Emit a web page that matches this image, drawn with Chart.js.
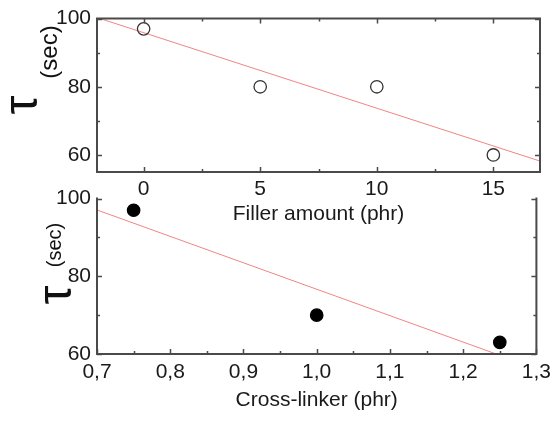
<!DOCTYPE html>
<html>
<head>
<meta charset="utf-8">
<script src="https://cdn.jsdelivr.net/npm/chart.js"></script>
<style>
  body { margin: 0; background: #fff; }
  .wrap { position: relative; width: 557px; height: 421px; }
  canvas { position: absolute; left: 0; }
</style>
</head>
<body>
<div class="wrap">
  <canvas id="topChart" width="557" height="235" style="top:0px"></canvas>
  <canvas id="botChart" width="557" height="241" style="top:180px"></canvas>
</div>
<script>
// top panel - filler amount
const fillerX = [0, 5, 10, 15];
const fillerTau = [97, 80, 80, 60];
const fillerFitX = [-2, 17];
const fillerFitTau = [100.3, 58.2];
const fillerTicksX = [0, 5, 10, 15];
const fillerMinorX = [2.5, 7.5, 12.5];
const fillerTicksY = [60, 80, 100];
const fillerMinorY = [70, 90];

// bottom panel - cross-linker
const crossX = [0.75, 1.0, 1.25];
const crossTau = [97, 70, 63];
const crossFitX = [0.7, 1.3];
const crossFitTau = [97.07, 56.27];
const crossTicksX = [0.7, 0.8, 0.9, 1.0, 1.1, 1.2, 1.3];
const crossMinorX = [0.75, 0.85, 0.95, 1.05, 1.15, 1.25];
const crossTicksY = [60, 80, 100];
const crossMinorY = [70, 90];

const FONT = '"Liberation Sans", Arial, sans-serif';
Chart.defaults.font.family = FONT;
Chart.defaults.color = '#1a1a1a';

const pts = (xs, ys) => xs.map((x, i) => ({ x: x, y: ys[i] }));

// axes box with inward ticks
const framePlugin = {
  id: 'frame',
  afterDatasetsDraw(chart, args, o) {
    const ctx = chart.ctx, a = chart.chartArea;
    const x = chart.scales.x, y = chart.scales.y;
    ctx.save();
    ctx.strokeStyle = '#4a4a4a';
    ctx.lineWidth = 2;
    ctx.lineCap = 'square';
    ctx.beginPath();
    if (o.top) { ctx.moveTo(a.left, a.top); ctx.lineTo(a.right, a.top); }
    ctx.moveTo(a.left, a.top); ctx.lineTo(a.left, a.bottom);
    ctx.lineTo(a.right, a.bottom); ctx.lineTo(a.right, a.top);
    ctx.stroke();
    ctx.lineWidth = 1.5;
    ctx.lineCap = 'butt';
    ctx.beginPath();
    const tickX = (vals, len) => vals.forEach(v => {
      const px = Math.round(x.getPixelForValue(v)) + 0.5;
      ctx.moveTo(px, a.bottom); ctx.lineTo(px, a.bottom - len);
      if (o.top) { ctx.moveTo(px, a.top); ctx.lineTo(px, a.top + len); }
    });
    const tickY = (vals, len) => vals.forEach(v => {
      const py = Math.round(y.getPixelForValue(v)) + 0.5;
      ctx.moveTo(a.left, py); ctx.lineTo(a.left + len, py);
      ctx.moveTo(a.right, py); ctx.lineTo(a.right - len, py);
    });
    tickX(o.majorX, 5); tickX(o.minorX, 3);
    tickY(o.majorY, 5); tickY(o.minorY, 3);
    ctx.stroke();
    ctx.restore();
  }
};

// rotated tau (sec) axis title
const tauPlugin = {
  id: 'tauTitle',
  afterDraw(chart, args, o) {
    const ctx = chart.ctx;
    ctx.save();
    ctx.fillStyle = '#111';
    ctx.textAlign = 'center';
    ctx.textBaseline = 'alphabetic';
    [o.main, o.sub].forEach(t => {
      ctx.save();
      ctx.translate(t.x, t.y);
      ctx.rotate(-Math.PI / 2);
      ctx.font = t.size + 'px ' + FONT;
      ctx.fillText(t.text, 0, 0);
      ctx.restore();
    });
    ctx.restore();
  }
};

function makeChart(id, cfg) {
  return new Chart(document.getElementById(id), {
    type: 'scatter',
    data: {
      datasets: [
        { data: cfg.fit, showLine: true, borderColor: 'rgba(240,110,110,0.85)', borderWidth: 1, pointRadius: 0, order: 2 },
        { data: cfg.points, pointRadius: 6.2, pointBorderWidth: 1.3, pointBorderColor: cfg.ptBorder, pointBackgroundColor: cfg.ptFill, order: 1 }
      ]
    },
    options: {
      responsive: false,
      devicePixelRatio: 1,
      animation: false,
      layout: { padding: { top: cfg.padTop, right: 17, left: 0, bottom: 0 } },
      plugins: {
        legend: { display: false },
        tooltip: { enabled: false },
        frame: { top: cfg.topAxis, majorX: cfg.ticksX, minorX: cfg.minorX, majorY: cfg.ticksY, minorY: cfg.minorY },
        tauTitle: cfg.tau
      },
      scales: {
        x: {
          type: 'linear', min: cfg.xMin, max: cfg.xMax,
          afterBuildTicks: s => { s.ticks = cfg.ticksX.map(v => ({ value: v })); },
          afterFit: s => { s.height = cfg.xHeight; },
          grid: { display: false, drawTicks: false },
          border: { display: false },
          ticks: { font: { size: 21 }, padding: cfg.xTickPad, callback: cfg.fmtX },
          title: { display: true, text: cfg.xTitle, font: { size: 21 }, padding: { top: 0, bottom: cfg.xTitlePad } }
        },
        y: {
          type: 'linear', min: cfg.yMin, max: cfg.yMax,
          afterBuildTicks: s => { s.ticks = cfg.ticksY.map(v => ({ value: v })); },
          afterFit: s => { s.width = 97; },
          grid: { display: false, drawTicks: false },
          border: { display: false },
          ticks: { font: { size: 21 }, padding: 6 }
        }
      }
    },
    plugins: [framePlugin, tauPlugin]
  });
}

makeChart('topChart', {
  points: pts(fillerX, fillerTau),
  fit: pts(fillerFitX, fillerFitTau),
  ptBorder: '#333', ptFill: 'rgba(255,255,255,0)',
  xMin: -2, xMax: 17, yMin: 55, yMax: 100,
  ticksX: fillerTicksX, minorX: fillerMinorX, ticksY: fillerTicksY, minorY: fillerMinorY,
  topAxis: true, padTop: 13, xHeight: 63, xTickPad: 5, xTitlePad: 8,
  xTitle: 'Filler amount (phr)',
  fmtX: v => String(v),
  tau: { main: { text: 'τ', x: 37, y: 105, size: 48 }, sub: { text: '(sec)', x: 57, y: 52, size: 24 } }
});

makeChart('botChart', {
  points: pts(crossX, crossTau),
  fit: pts(crossFitX, crossFitTau),
  ptBorder: '#000', ptFill: '#000',
  xMin: 0.7, xMax: 1.3, yMin: 60, yMax: 100,
  ticksX: crossTicksX, minorX: crossMinorX, ticksY: crossTicksY, minorY: crossMinorY,
  topAxis: false, padTop: 15, xHeight: 67, xTickPad: 6, xTitlePad: 8,
  xTitle: 'Cross-linker (phr)',
  fmtX: v => v.toFixed(1).replace('.', ','),
  tau: { main: { text: 'τ', x: 71, y: 115, size: 48 }, sub: { text: '(sec)', x: 61, y: 65, size: 20 } }
});
</script>
</body>
</html>
